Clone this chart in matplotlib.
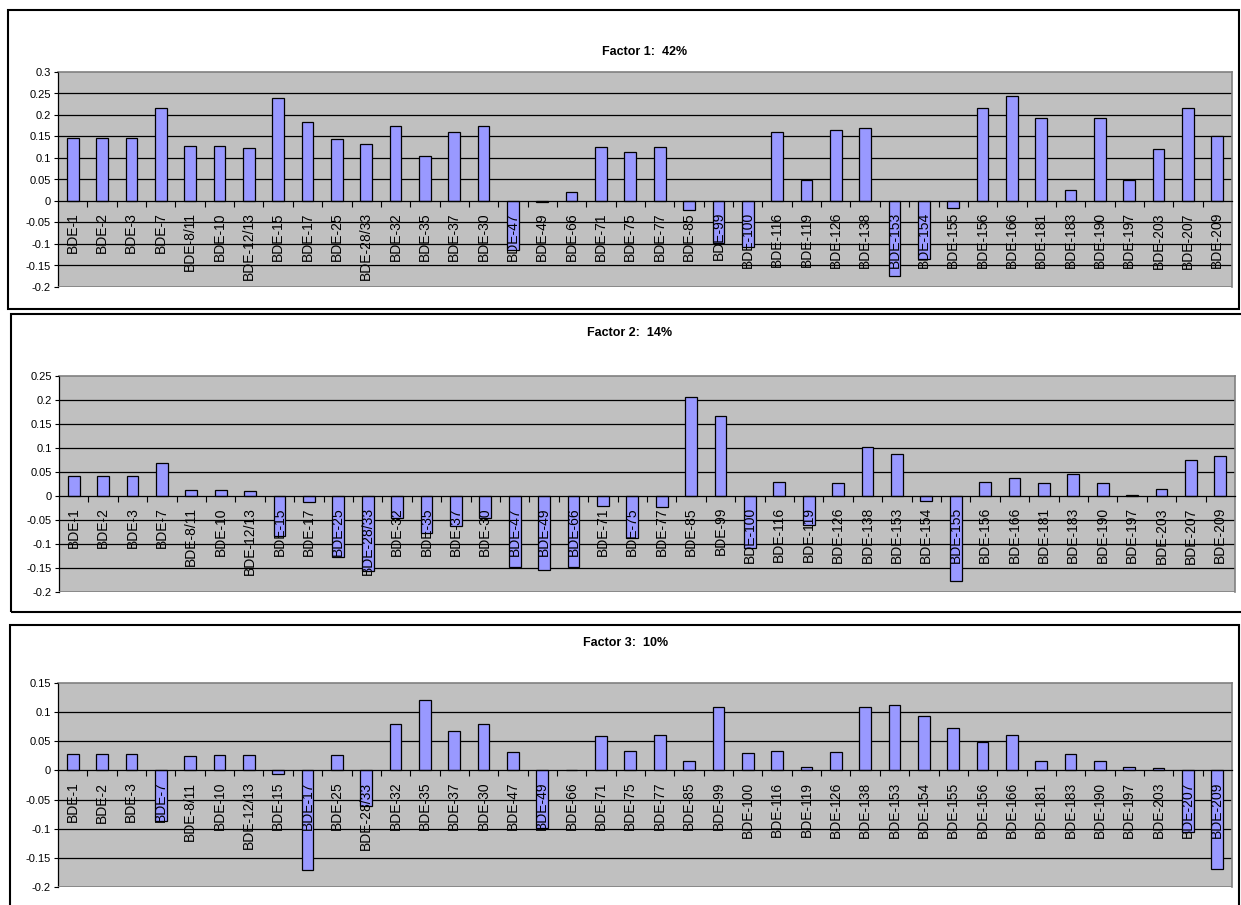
import numpy as np
import matplotlib
matplotlib.use("Agg")
import matplotlib.pyplot as plt
from matplotlib.patches import Rectangle
from matplotlib.ticker import MultipleLocator, FixedLocator, FuncFormatter

plt.rcParams['font.family'] = ['Liberation Sans', 'DejaVu Sans']

congeners = ['BDE-1', 'BDE-2', 'BDE-3', 'BDE-7', 'BDE-8/11', 'BDE-10', 'BDE-12/13',
             'BDE-15', 'BDE-17', 'BDE-25', 'BDE-28/33', 'BDE-32', 'BDE-35', 'BDE-37',
             'BDE-30', 'BDE-47', 'BDE-49', 'BDE-66', 'BDE-71', 'BDE-75', 'BDE-77',
             'BDE-85', 'BDE-99', 'BDE-100', 'BDE-116', 'BDE-119', 'BDE-126', 'BDE-138',
             'BDE-153', 'BDE-154', 'BDE-155', 'BDE-156', 'BDE-166', 'BDE-181', 'BDE-183',
             'BDE-190', 'BDE-197', 'BDE-203', 'BDE-207', 'BDE-209']

factor1 = [0.147, 0.147, 0.147, 0.217, 0.127, 0.127, 0.124, 0.239, 0.183, 0.144,
           0.133, 0.175, 0.104, 0.160, 0.174, -0.115, -0.003, 0.020, 0.126, 0.113,
           0.126, -0.021, -0.098, -0.107, 0.160, 0.049, 0.165, 0.169, -0.175, -0.135,
           -0.017, 0.216, 0.244, 0.193, 0.026, 0.193, 0.049, 0.121, 0.216, 0.150]

factor2 = [0.042, 0.042, 0.042, 0.069, 0.012, 0.012, 0.010, -0.083, -0.013, -0.128,
           -0.157, -0.045, -0.077, -0.063, -0.045, -0.147, -0.155, -0.147, -0.020, -0.088,
           -0.023, 0.206, 0.166, -0.108, 0.030, -0.060, 0.027, 0.102, 0.087, -0.010,
           -0.177, 0.030, 0.037, 0.027, 0.045, 0.027, 0.003, 0.015, 0.074, 0.084]

factor3 = [0.028, 0.028, 0.028, -0.086, 0.024, 0.026, 0.026, -0.006, -0.171, 0.026,
           -0.061, 0.079, 0.120, 0.067, 0.079, 0.031, -0.098, 0.0, 0.059, 0.033,
           0.060, 0.016, 0.108, 0.030, 0.033, 0.006, 0.031, 0.108, 0.112, 0.094,
           0.073, 0.049, 0.060, 0.016, 0.028, 0.016, 0.006, 0.004, -0.106, -0.169]

titles = ['Factor 1:  42%', 'Factor 2:  14%', 'Factor 3:  10%']
ylims = [(-0.2, 0.3), (-0.2, 0.25), (-0.2, 0.15)]

W, H = 1241, 905
fig = plt.figure(figsize=(W / 100, H / 100), dpi=100)

# pixel layouts: (box left, top, right, bottom), (plot left, top, right, bottom), title pos
boxes = [(8, 10, 1239, 309), (11, 314, 1250, 612), (10, 625, 1239, 920)]
plots = [(58, 72, 1232, 287), (59, 376, 1235, 592), (58, 683, 1232, 887)]
title_xy = [(645, 52), (630, 333), (626, 643)]


def fx(px):
    return px / W


def fy(py):
    return 1 - py / H


for (bl, bt, br, bb) in boxes:
    fig.patches.append(Rectangle((fx(bl), fy(bb)), fx(br - bl), (bb - bt) / H,
                                 transform=fig.transFigure, fill=False,
                                 edgecolor='black', linewidth=1.5, zorder=0))

data = [factor1, factor2, factor3]
x = np.arange(len(congeners))

for k in range(3):
    l, t, r, b = plots[k]
    ax = fig.add_axes([fx(l), fy(b), fx(r - l), (b - t) / H])
    ax.set_facecolor('#C0C0C0')
    ax.set_axisbelow(False)
    ax.bar(x, data[k], width=0.4, color='#9999FF', edgecolor='black', linewidth=0.9, zorder=2)
    ax.set_xlim(-0.5, len(congeners) - 0.5)
    ax.set_ylim(*ylims[k])

    ax.yaxis.set_major_locator(MultipleLocator(0.05))
    ax.yaxis.set_major_formatter(FuncFormatter(lambda v, p: ('%g' % round(v, 2)) if abs(v) > 1e-9 else '0'))
    # gridlines behind the bars
    for gv in ax.get_yticks():
        if ylims[k][0] < gv < ylims[k][1] and abs(gv) > 1e-9:
            ax.axhline(gv, color='black', linewidth=0.9, zorder=1)
    ax.tick_params(axis='y', labelsize=8, length=3, width=0.8, pad=2)

    for side in ['top', 'right']:
        ax.spines[side].set_color('#808080')
        ax.spines[side].set_linewidth(1.2)
    ax.spines['left'].set_color('black')
    ax.spines['left'].set_linewidth(0.9)
    ax.spines['bottom'].set_position(('data', 0))
    ax.spines['bottom'].set_color('black')
    ax.spines['bottom'].set_linewidth(0.9)
    # gray frame line at bottom of the plot area
    ax.axhline(ylims[k][0], color='#808080', linewidth=1.2, zorder=3)

    ax.set_xticks(x)
    ax.set_xticklabels(congeners, rotation=90, fontsize=10)
    ax.tick_params(axis='x', which='major', length=0, pad=8)
    ax.xaxis.set_minor_locator(FixedLocator(np.arange(0.5, len(congeners) - 0.5, 1.0)))
    ax.tick_params(axis='x', which='minor', length=4, width=0.8, direction='out')

    tx, ty = title_xy[k]
    fig.text(fx(tx), fy(ty), titles[k], ha='center', va='center',
             fontsize=9, fontweight='bold')

fig.savefig('out.png', dpi=100)
